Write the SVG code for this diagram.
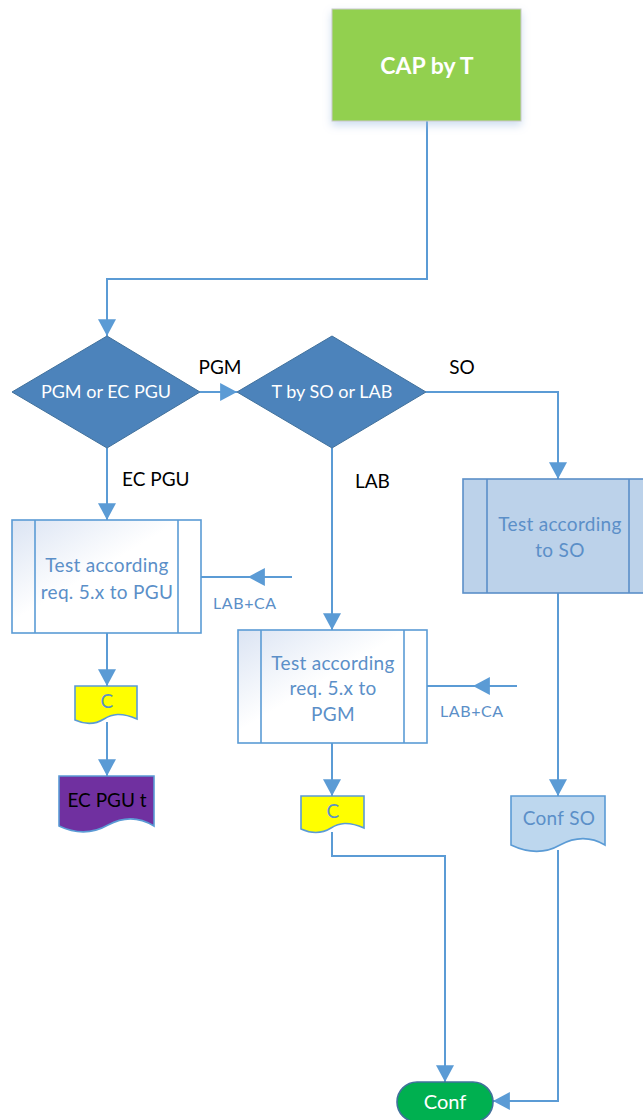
<svg xmlns="http://www.w3.org/2000/svg" width="643" height="1120" viewBox="0 0 643 1120">
  <style>
    .conn { fill: none; stroke: #5b9bd5; stroke-width: 2; }
    .lbl { font-family: Lato, "Liberation Sans", sans-serif; font-size: 19px; fill: #000; }
    .lblb { font-family: Lato, "Liberation Sans", sans-serif; font-size: 16px; letter-spacing: 0.6px; fill: #5b8fc8; }
    .dec { fill: #4c83bb; stroke: #41719c; stroke-width: 1; }
    .dectxt { font-family: Lato, "Liberation Sans", sans-serif; font-size: 18px; fill: #fff; text-anchor: middle; }
    .proc { fill: url(#procFill); stroke: #5b9bd5; stroke-width: 1.6; }
    .proc2 { fill: #bcd2ea; stroke: #5b8fc8; stroke-width: 1.6; }
    .ptxt { font-family: Lato, "Liberation Sans", sans-serif; font-size: 19px; letter-spacing: 0.3px; fill: #5b8fc8; text-anchor: middle; }
    .doc { stroke: #5b9bd5; stroke-width: 1.6; }
  </style>
  <defs>
    <linearGradient id="procFill" x1="0" y1="0" x2="1" y2="1">
      <stop offset="0" stop-color="#dbe4f3"/>
      <stop offset="0.45" stop-color="#ffffff"/>
      <stop offset="1" stop-color="#ffffff"/>
    </linearGradient>
    <marker id="arrow" markerUnits="userSpaceOnUse" markerWidth="18" markerHeight="18" viewBox="0 0 16 16" refX="15" refY="8" orient="auto">
      <path d="M0,0 L15,8 L0,16 z" fill="#5b9bd5"/>
    </marker>
    <filter id="shadow" x="-20%" y="-20%" width="140%" height="150%">
      <feGaussianBlur in="SourceAlpha" stdDeviation="4"/>
      <feOffset dx="0" dy="4" result="b"/>
      <feFlood flood-color="#9dbbe0" flood-opacity="0.5"/>
      <feComposite in2="b" operator="in"/>
      <feMerge><feMergeNode/><feMergeNode in="SourceGraphic"/></feMerge>
    </filter>
  </defs>

  <!-- connectors -->
  <g id="connectors">
    <polyline class="conn" points="427,121 427,279 107,279 107,336" marker-end="url(#arrow)"/>
    <line class="conn" x1="200" y1="392" x2="237" y2="392" marker-end="url(#arrow)"/>
    <line class="conn" x1="107" y1="448" x2="107" y2="520" marker-end="url(#arrow)"/>
    <line class="conn" x1="332" y1="448" x2="332" y2="630" marker-end="url(#arrow)"/>
    <polyline class="conn" points="426,392 558,392 558,479" marker-end="url(#arrow)"/>
    <polyline class="conn" points="292,577 248,577 201,577" marker-mid="url(#arrow)"/>
    <polyline class="conn" points="517,686 473,686 427,686" marker-mid="url(#arrow)"/>
    <line class="conn" x1="107" y1="633" x2="107" y2="686" marker-end="url(#arrow)"/>
    <line class="conn" x1="107" y1="722" x2="107" y2="776" marker-end="url(#arrow)"/>
    <line class="conn" x1="332" y1="743" x2="332" y2="796" marker-end="url(#arrow)"/>
    <line class="conn" x1="558" y1="593" x2="558" y2="796" marker-end="url(#arrow)"/>
    <polyline class="conn" points="332,832 332,856 445,856 445,1082" marker-end="url(#arrow)"/>
    <polyline class="conn" points="558,850 558,1101 493,1101" marker-end="url(#arrow)"/>
  </g>

  <!-- start -->
  <g id="start">
    <rect x="332" y="9" width="189" height="112" fill="#92d050" stroke="#c9c9c9" stroke-width="1" filter="url(#shadow)"/>
    <text x="427" y="74" font-family="Lato, 'Liberation Sans', sans-serif" font-size="23" font-weight="bold" fill="#fff" text-anchor="middle">CAP by T</text>
  </g>

  <!-- decision: PGM or EC PGU -->
  <g id="decision-type">
    <polygon class="dec" points="107,336 200,392 107,448 12,392"/>
    <text class="dectxt" x="106" y="398">PGM or EC PGU</text>
  </g>

  <!-- decision: T by SO or LAB -->
  <g id="decision-tester">
    <polygon class="dec" points="332,336 426,392 332,448 237,392"/>
    <text class="dectxt" x="332" y="398">T by SO or LAB</text>
  </g>

  <!-- branch labels -->
  <g id="branch-labels">
    <text class="lbl" x="220" y="374" text-anchor="middle">PGM</text>
    <text class="lbl" x="462" y="374" text-anchor="middle">SO</text>
    <text class="lbl" x="122" y="486">EC PGU</text>
    <text class="lbl" x="355" y="488">LAB</text>
    <text class="lblb" x="213" y="609">LAB+CA</text>
    <text class="lblb" x="440" y="717">LAB+CA</text>
  </g>

  <!-- process: test PGU -->
  <g id="test-pgu">
    <rect class="proc" x="12" y="520" width="189" height="113"/>
    <line x1="35" y1="520" x2="35" y2="633" stroke="#5b9bd5" stroke-width="1.6"/>
    <line x1="178" y1="520" x2="178" y2="633" stroke="#5b9bd5" stroke-width="1.6"/>
    <text class="ptxt" x="107" y="572">Test according</text>
    <text class="ptxt" x="107" y="599">req. 5.x to PGU</text>
  </g>

  <!-- process: test SO -->
  <g id="test-so">
    <rect class="proc2" x="463" y="479" width="190" height="114"/>
    <line x1="487" y1="479" x2="487" y2="593" stroke="#5b8fc8" stroke-width="1.6"/>
    <line x1="629" y1="479" x2="629" y2="593" stroke="#5b8fc8" stroke-width="1.6"/>
    <text class="ptxt" x="560" y="531">Test according</text>
    <text class="ptxt" x="560" y="557">to SO</text>
  </g>

  <!-- process: test PGM -->
  <g id="test-pgm">
    <rect class="proc" x="238" y="630" width="189" height="113"/>
    <line x1="261" y1="630" x2="261" y2="743" stroke="#5b9bd5" stroke-width="1.6"/>
    <line x1="404" y1="630" x2="404" y2="743" stroke="#5b9bd5" stroke-width="1.6"/>
    <text class="ptxt" x="333" y="670">Test according</text>
    <text class="ptxt" x="333" y="695">req. 5.x to</text>
    <text class="ptxt" x="333" y="721">PGM</text>
  </g>

  <!-- document: C (PGU) -->
  <g id="doc-c-pgu">
    <path class="doc" fill="#ffff00" d="M75,686 H137 V719 C121,712 112,714 104,719 C96,724 86,725 75,720 Z"/>
    <text class="ptxt" x="107" y="708">C</text>
  </g>

  <!-- document: EC PGU t -->
  <g id="doc-ec-pgu-t">
    <path class="doc" fill="#7030a0" d="M59,776 H154 V826 C136,815 121,818 108,825 C94,833 78,835 59,826 Z"/>
    <text x="107" y="807" font-family="Lato, 'Liberation Sans', sans-serif" font-size="19" fill="#000" text-anchor="middle">EC PGU t</text>
  </g>

  <!-- document: C (PGM) -->
  <g id="doc-c-pgm">
    <path class="doc" fill="#ffff00" d="M301,796 H364 V828 C348,821 339,823 331,828 C323,833 312,834 301,829 Z"/>
    <text class="ptxt" x="333" y="818">C</text>
  </g>

  <!-- document: Conf SO -->
  <g id="doc-conf-so">
    <path class="doc" fill="#bdd7ee" d="M511,796 H605 V845 C588,835 573,838 560,845 C546,853 530,854 511,845 Z"/>
    <text class="ptxt" x="559" y="825">Conf SO</text>
  </g>

  <!-- terminator: Conf -->
  <g id="end-conf">
    <rect x="397" y="1082" width="96" height="40" rx="20" ry="20" fill="#00b050" stroke="#41719c" stroke-width="1.6"/>
    <text x="445" y="1109" font-family="Lato, 'Liberation Sans', sans-serif" font-size="20" fill="#fff" text-anchor="middle">Conf</text>
  </g>
</svg>
